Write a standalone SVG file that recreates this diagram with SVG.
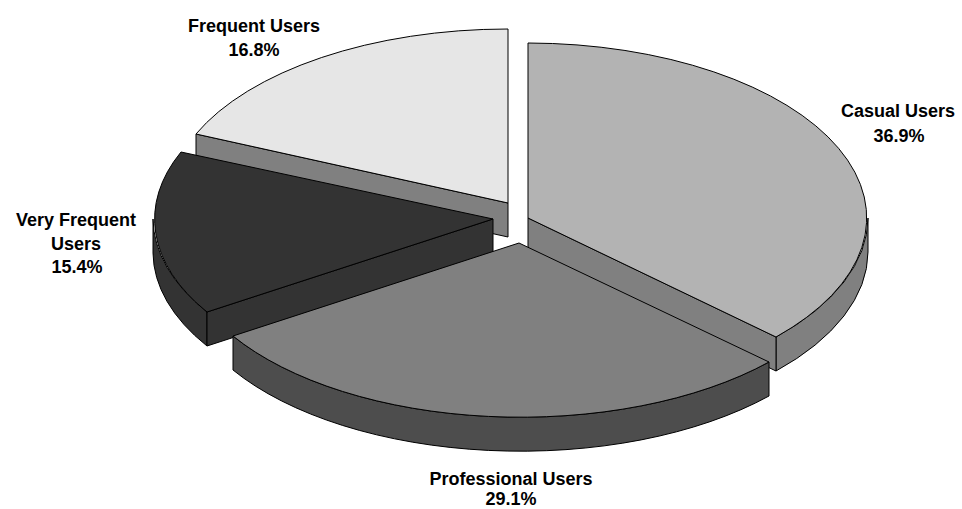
<svg xmlns="http://www.w3.org/2000/svg" width="962" height="509" viewBox="0 0 962 509">
<style>
.s{stroke:#000;stroke-width:1;stroke-linejoin:round}
.lbl{font-family:"Liberation Sans",Arial,sans-serif;font-weight:bold;font-size:18px;fill:#000;text-anchor:middle}
</style>
<rect width="962" height="509" fill="#fff"/>
<g id="frequent">
<path class="s" fill="#808080" d="M196,134 L508,203 L508,237 L196,168 Z"/>
<path class="s" fill="#e6e6e6" d="M508,203 V29 A340 174 0 0 0 196,134 Z"/>
</g>
<g id="casual">
<path class="s" fill="#808080" d="M868,218 A340 175 0 0 1 776,337 V371 A340 175 0 0 0 868,252 Z"/>
<path class="s" fill="#808080" d="M528,218 L776,337 L776,371 L528,252 Z"/>
<path class="s" fill="#b3b3b3" d="M528,218 V43 A340 175 0 0 1 776,337 Z"/>
</g>
<g id="very-frequent">
<path class="s" fill="#333" d="M153,219 A340 174 0 0 0 207,312 V346 A340 174 0 0 1 153,253 Z"/>
<path class="s" fill="#333" d="M207,312 L493,219 L493,253 L207,346 Z"/>
<path class="s" fill="#333" d="M493,219 L181,152 A340 174 0 0 0 207,312 Z"/>
</g>
<g id="professional">
<path class="s" fill="#4d4d4d" d="M769,362 A340 174 0 0 1 233,336 V370 A340 174 0 0 0 769,396 Z"/>
<path class="s" fill="#808080" d="M519,243 L769,362 A340 174 0 0 1 233,336 Z"/>
</g>
<g id="labels">
<text class="lbl" x="254" y="32">Frequent Users</text>
<text class="lbl" x="254" y="56">16.8%</text>
<text class="lbl" x="898" y="117">Casual Users</text>
<text class="lbl" x="899" y="142">36.9%</text>
<text class="lbl" x="76" y="226">Very Frequent</text>
<text class="lbl" x="76" y="250">Users</text>
<text class="lbl" x="77" y="273">15.4%</text>
<text class="lbl" x="511" y="485">Professional Users</text>
<text class="lbl" x="511" y="505">29.1%</text>
</g>
</svg>
